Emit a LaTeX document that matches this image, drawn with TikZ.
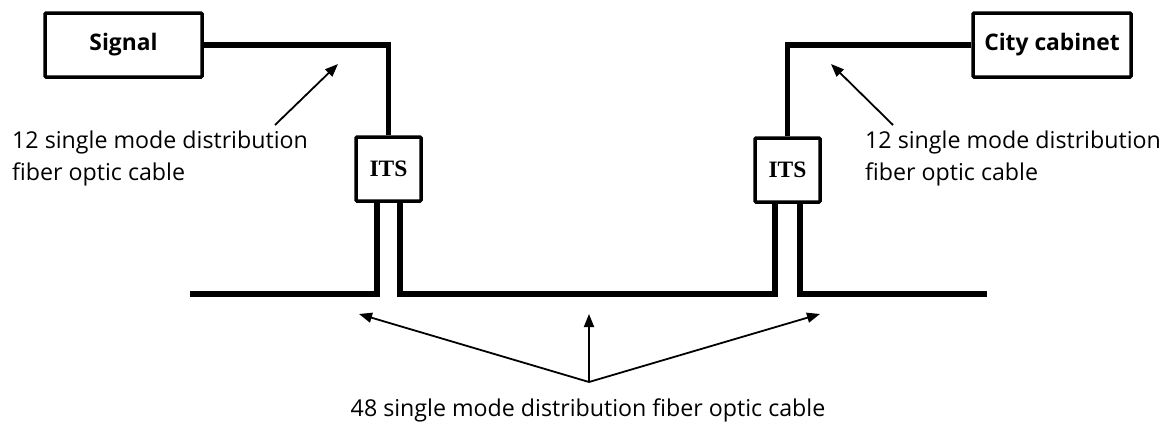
\documentclass[tikz,border=0pt]{standalone}
\usepackage{fontspec}
\setmainfont{Open Sans}
\newfontfamily\itsfont{Liberation Serif}
\usetikzlibrary{arrows.meta}
\begin{document}
\begin{tikzpicture}[x=1pt,y=-1pt,
  boxn/.style={draw,line width=3.5pt,rounded corners=1pt,minimum height=64pt,inner sep=0pt,font=\fontsize{22.8}{26}\selectfont\bfseries},
  itsn/.style={draw,line width=3.5pt,rounded corners=1pt,minimum width=65pt,minimum height=64pt,inner sep=0pt,font=\itsfont\fontsize{23.5}{26}\selectfont\bfseries},
  cable/.style={line width=5.5pt},
  ptr/.style={line width=1.8pt,-{Triangle[length=13pt,width=10pt]}},
  lbl/.style={font=\fontsize{23.2}{32}\selectfont,align=left,inner sep=0pt,anchor=north west}]
\useasboundingbox (0,0) rectangle (1176,431);
\node[boxn,minimum width=157pt] (sig) at (123.5,45) {Signal};
\node[boxn,minimum width=158pt] (cab) at (1052,45) {City cabinet};
\node[itsn] (its1) at (388.5,169) {ITS};
\node[itsn] (its2) at (787.5,170) {ITS};
\draw[cable] (sig.east) -| (its1.north);
\draw[cable] (cab.west) -| (its2.north);
\coordinate (a1) at (190,294);
\coordinate (a2) at (987,294);
\draw[cable] (a1) -| ([xshift=-11.5pt]its1.south);
\draw[cable] ([xshift=11.5pt]its1.south) |- ([xshift=-12.5pt]its2.south |- a1) -- ([xshift=-12.5pt]its2.south);
\draw[cable] ([xshift=12.5pt]its2.south) |- (a2);
\node[lbl] (l1) at (12,131) {12 single mode distribution\\fiber optic cable};
\node[lbl] (l2) at (865,131) {12 single mode distribution\\fiber optic cable};
\coordinate (t1) at (338,64);
\coordinate (t2) at (831,64);
\draw[ptr] (275,125) -- (t1);
\draw[ptr] (893,125) -- (t2);
\node[font=\fontsize{23.2}{26}\selectfont,inner sep=0pt] (l3) at (588,410) {48 single mode distribution fiber optic cable};
\coordinate (o) at (589,382);
\coordinate (b1) at (359,314);
\coordinate (b2) at (589,314);
\coordinate (b3) at (820,314);
\draw[ptr] (o) -- (b1);
\draw[ptr] (o) -- (b2);
\draw[ptr] (o) -- (b3);
\end{tikzpicture}
\end{document}
